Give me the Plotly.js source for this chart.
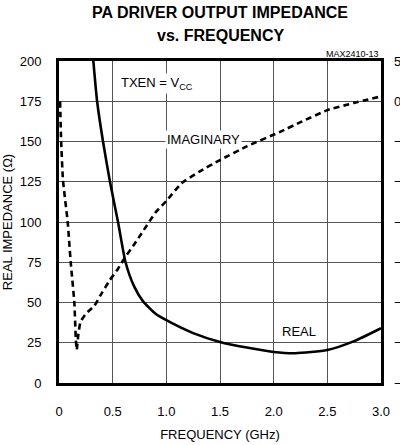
<!DOCTYPE html>
<html>
<head>
<meta charset="utf-8">
<script src="https://cdn.plot.ly/plotly-3.0.1.min.js"></script>
<style>html,body{margin:0;padding:0;background:#fff;}#chart{width:400px;height:445px;}</style>
</head>
<body>
<div id="chart"></div>
<script>
// Real impedance (ohms) vs frequency (GHz)
const realFreq = [0.32, 0.355, 0.41, 0.475, 0.55, 0.62, 0.7, 0.78, 0.9, 1.0, 1.25, 1.5, 1.75, 2.0, 2.2, 2.5, 2.75, 3.0];
const realOhm  = [200, 175, 150, 125, 100, 75, 60, 51, 43, 39, 31, 25.5, 22, 19.3, 18.5, 20.5, 26, 34];

// Imaginary impedance (ohms, right axis) vs frequency (GHz)
const imagFreq = [0.01, 0.02, 0.037, 0.081, 0.109, 0.143, 0.156, 0.165, 0.18, 0.2, 0.25, 0.33, 0.4, 0.475, 0.55, 0.615, 0.7, 0.77, 0.9, 1.0, 1.14, 1.3, 1.5, 1.75, 2.06, 2.25, 2.5, 2.75, 3.0];
const imagOhm  = [0, -50, -98, -150, -200, -250, -294, -309, -290, -274, -264, -254, -238, -222, -208, -194, -178, -164, -138, -124, -102, -88, -73, -56, -38, -26, -11, -2, 6];

const xTicks = [0, 0.5, 1.0, 1.5, 2.0, 2.5, 3.0];
const xTickText = ['0', '0.5', '1.0', '1.5', '2.0', '2.5', '3.0'];
const yTicks = [0, 25, 50, 75, 100, 125, 150, 175, 200];
const y2Ticks = [50, 0, -50, -100, -150, -200, -250, -300, -350];

const FONT = 'Liberation Sans, Arial, Helvetica, sans-serif';

const traces = [
  {x: realFreq, y: realOhm, type: 'scatter', mode: 'lines', line: {color: '#000', width: 2.6, shape: 'spline', smoothing: 0.6}, yaxis: 'y', hoverinfo: 'skip'},
  {x: imagFreq, y: imagOhm, type: 'scatter', mode: 'lines', line: {color: '#000', width: 2.6, dash: '6px,4px', shape: 'spline', smoothing: 0.4}, yaxis: 'y2', hoverinfo: 'skip'}
];

const layout = {
  width: 400, height: 445,
  margin: {l: 59, r: 19, t: 61, b: 62},
  paper_bgcolor: '#fff', plot_bgcolor: '#fff',
  showlegend: false,
  font: {family: FONT, color: '#000', size: 12},
  xaxis: {
    range: [0, 3], tickvals: xTicks, ticktext: xTickText, ticks: '', ticklabelstandoff: 14,
    showgrid: true, gridcolor: '#555', gridwidth: 1,
    showline: true, linecolor: '#000', linewidth: 3, mirror: true, zeroline: false,
    tickfont: {size: 13, family: FONT},
    title: {text: 'FREQUENCY (GHz)', font: {size: 13, family: FONT}, standoff: 13}
  },
  yaxis: {
    range: [0, 200], tickvals: yTicks, ticks: '', ticklabelstandoff: 12,
    showgrid: true, gridcolor: '#555', gridwidth: 1,
    showline: true, linecolor: '#000', linewidth: 3, mirror: true, zeroline: false,
    tickfont: {size: 13, family: FONT},
    title: {text: 'REAL IMPEDANCE (Ω)', font: {size: 13, family: FONT}, standoff: 11}
  },
  yaxis2: {
    range: [-350, 50], tickvals: y2Ticks, overlaying: 'y', side: 'right', ticks: '', ticklabelstandoff: 12,
    showgrid: false, zeroline: false, showline: false,
    tickfont: {size: 13, family: FONT}
  },
  annotations: [
    {text: '<b>PA DRIVER OUTPUT IMPEDANCE</b>', xref: 'paper', yref: 'paper', x: 0.5, y: 1, yshift: 49, xanchor: 'center', yanchor: 'middle', showarrow: false, font: {size: 16, family: FONT}},
    {text: '<b>vs. FREQUENCY</b>', xref: 'paper', yref: 'paper', x: 0.5, y: 1, yshift: 26, xanchor: 'center', yanchor: 'middle', showarrow: false, font: {size: 16, family: FONT}},
    {text: 'MAX2410-13', xref: 'paper', yref: 'paper', x: 1, y: 1, yshift: 7, xanchor: 'right', yanchor: 'middle', showarrow: false, font: {size: 9, family: FONT}},
    {text: 'TXEN = V<sub>CC</sub>', xref: 'x', yref: 'y', x: 0.56, y: 186, xanchor: 'left', yanchor: 'middle', showarrow: false, font: {size: 13, family: FONT}, bgcolor: '#fff'},
    {text: 'IMAGINARY', xref: 'x', yref: 'y', x: 1.35, y: 151, xanchor: 'center', yanchor: 'middle', showarrow: false, font: {size: 13, family: FONT}, bgcolor: '#fff', borderpad: 1},
    {text: 'REAL', xref: 'x', yref: 'y', x: 2.24, y: 32, xanchor: 'center', yanchor: 'middle', showarrow: false, font: {size: 13, family: FONT}}
  ]
};

Plotly.newPlot('chart', traces, layout, {staticPlot: true, displayModeBar: false});
</script>
</body>
</html>
